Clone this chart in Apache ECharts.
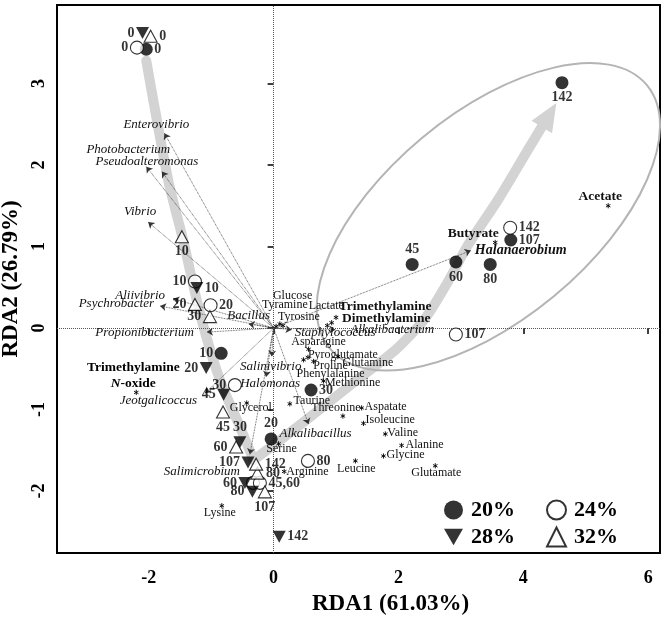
<!DOCTYPE html>
<html><head><meta charset="utf-8">
<script src="https://cdn.jsdelivr.net/npm/echarts@6/dist/echarts.min.js"></script>
<style>html,body{margin:0;padding:0;background:#fff}#c{width:672px;height:619px}</style>
</head><body><div id="c"></div>
<script>
const FONT = "'Liberation Serif','Times New Roman',serif";

// ---------------- data ----------------
const days = [0, 10, 20, 30, 45, 60, 80, 107, 142];
// 20% (filled circle)
const s20x = [-2.04, -0.84, -0.04, 0.60, 2.22, 2.92, 3.47, 3.80, 4.62];
const s20y = [3.42, -0.31, -1.36, -0.76, 0.78, 0.81, 0.78, 1.08, 3.01];
// 24% (open circle)
const s24x = [-2.19, -1.26, -1.01, -0.62, -0.33, -0.22, 0.55, 2.92, 3.79];
const s24y = [3.44, 0.57, 0.28, -0.70, -1.90, -1.90, -1.63, -0.08, 1.23];
const s24text = ['0', '10', '20', '30', '', '45,60', '80', '107', '142'];
// 28% (filled down triangle)
const s28x = [-2.10, -1.23, -1.08, -0.54, -0.80, -0.46, -0.34, -0.41, 0.09];
const s28y = [3.62, 0.49, -0.49, -1.40, -0.82, -1.90, -2.01, -1.65, -2.56];
// 32% (open up triangle)
const s32x = [-1.97, -1.47, -1.26, -1.02, -0.81, -0.60, -0.26, -0.14, -0.28];
const s32y = [3.58, 1.12, 0.29, 0.14, -1.03, -1.46, -1.78, -2.01, -1.67];

// species (arrows)
const speciesNames = ['Enterovibrio', 'Photobacterium', 'Pseudoalteromonas', 'Vibrio', 'Aliivibrio',
  'Psychrobacter', 'Bacillus', 'Propionibacterium', 'Jeotgalicoccus', 'Salimicrobium', 'Halomonas',
  'Salinivibrio', 'Alkalibacillus', 'Staphylococcus', 'Alkalibacterium', 'Halanaerobium'];
const speciesX = [-1.75, -2.04, -1.79, -2.01, -1.61, -1.82, -0.40, -1.07, -1.10, -0.38, -0.12, -0.03, 0.56, 0.29, 0.99, 3.16];
const speciesY = [2.39, 1.98, 1.92, 1.30, 0.36, 0.27, 0.05, -0.05, -0.80, -1.55, -0.60, -0.35, -1.18, -0.02, -0.02, 0.95];

// metabolites (asterisks)
const metaNames = ['Glucose', 'Tyramine', 'Tyrosine', 'Lactate', 'Trimethylamine', 'Dimethylamine',
  'Asparagine', 'Pyroglutamate', 'Proline', 'Glutamine', 'Phenylalanine', 'Methionine', 'Taurine',
  'Threonine', 'Aspatate', 'Isoleucine', 'Valine', 'Alanine', 'Glycine', 'Leucine', 'Glutamate',
  'Arginine', 'Serine', 'Glycerol', 'Lysine', 'Acetate', 'Butyrate', 'Trimethylamine N-oxide'];
const metaX = [0.04, 0.10, 0.15, 0.86, 1.00, 0.93, 0.56, 0.55, 0.64, 1.03, 0.48, 0.80, 0.26, 1.11, 1.41,
  1.44, 1.79, 2.05, 1.76, 1.31, 2.59, 0.17, 0.08, -0.43, -0.83, 5.36, 3.55, -2.20];
const metaY = [0.02, 0.05, 0.03, 0.03, 0.13, 0.065, -0.26, -0.36, -0.41, -0.35, -0.39, -0.65, -0.93, -1.08,
  -0.98, -1.17, -1.30, -1.44, -1.57, -1.63, -1.69, -1.76, -1.42, -0.92, -2.18, 1.50, 1.05, -0.79];

// trajectory band
const bandLeftX = [-2.04, -1.69, -1.45, -1.18, -0.86, -0.54, -0.32];
const bandLeftY = [3.28, 1.82, 1.08, 0.18, -0.64, -1.21, -1.62];
const bandRightX = [-0.32, 0.42, 1.23, 1.95, 2.43, 2.78, 3.10, 3.60, 4.10, 4.53];
const bandRightY = [-1.62, -1.19, -0.70, -0.27, 0.12, 0.55, 1.00, 1.58, 2.22, 2.76];

// ellipse (ends of major axis, minor/major ratio)
const ellipseEnds = [[0.90, -0.25], [5.98, 2.98]];
const ellipseRatio = 0.5;

const xTicks = [-2, 0, 2, 4, 6];
const yTicks = [-2, -1, 0, 1, 2, 3];
const xTitle = 'RDA1 (61.03%)';
const yTitle = 'RDA2 (26.79%)';
const legendNames = ['20%', '24%', '28%', '32%'];

// ---------------- layout (label placement) ----------------
const s20pos = ['right', 'left', 'top', 'right', 'top', 'bottom', 'bottom', 'right', 'bottom'];
const s24pos = ['left', 'left', 'right', 'left', 'right', 'right', 'right', 'right', 'right'];
const s28pos = ['left', 'right', 'left', 'top', 'left', 'left', 'left', 'left', 'right'];
const s32pos = ['right', 'bottom', 'left', 'left', 'bottom', 'left', 'right', 'bottom', 'right'];
const speciesLayout = [
  [-8, -9, 'center'], [-18, -17, 'center'], [-15, -10, 'center'], [-8, -10, 'center'], [-8, -3, 'right'],
  [-6, -2, 'right'], [0, -8, 'center'], [-13, 0, 'right'], [-8, 7, 'right'], [-10, 17, 'right'],
  [4, 7, 'center'], [-1, 10, 'center'], [7, 9, 'center'], [3, 3, 'left'], [15, 0, 'left'], [4, 0, 'left']];
const speciesBold = [0,0,0,0,0,0,0,0,0,0,0,0,0,0,0,1];
const metaLayout = [
  [16.5, -31, 'center', 0], [5, -19, 'center', 0], [16, -9, 'center', 0], [-1, -20, 'center', 0],
  [49, -11, 'center', 1], [54.5, -4, 'center', 1], [10, -7, 'center', 0], [35, -3, 'center', 0],
  [17, 4, 'center', 0], [30, 6, 'center', 0], [27, 14, 'center', 0], [29, 2, 'center', 0],
  [22, -3, 'center', 0], [-7, -8, 'center', 0], [3, -1, 'left', 0], [2, -4, 'left', 0],
  [2, -1, 'left', 0], [4, -1, 'left', 0], [3, -1, 'left', 0], [1, 8, 'center', 0],
  [1, 7, 'center', 0], [2, 0, 'left', 0], [3, 5, 'center', 0], [4, 5, 'center', 0],
  [-2, 7, 'center', 0], [-8, -9, 'center', 1], [-22, -9, 'center', 1], [-3, -17, 'center', 1]];

const DOWN_TRI = 'path://M0,0L20,0L10,17.3Z';

function sampleSeries(name, xs, ys, texts, pos, symbol, size, filled) {
  return {
    type: 'scatter', name: name, symbol: symbol, symbolSize: size, z: 5,
    itemStyle: filled ? { color: '#000' } : { color: '#fff', borderColor: '#000', borderWidth: 1.1 },
    label: { show: true, formatter: '{b}', distance: 1.5, color: '#000', fontFamily: FONT, fontWeight: 'bold', fontSize: 14 },
    emphasis: { disabled: true },
    data: xs.map((x, i) => ({ value: [x, ys[i]], name: texts[i], label: { position: pos[i] } }))
  };
}

const chart = echarts.init(document.getElementById('c'));
const legendText = { fontFamily: FONT, fontWeight: 'bold', fontSize: 22, color: '#000', padding: [0, 0, 0, 3] };

chart.setOption({
  animation: false,
  backgroundColor: '#fff',
  grid: { left: 57, right: 12, top: 5, bottom: 66, show: true, borderColor: '#000', borderWidth: 2,
    backgroundColor: 'transparent', containLabel: false, outerBoundsMode: 'none' },
  legend: [
    { data: legendNames.slice(0, 2), left: 439, top: 494, itemWidth: 19, itemHeight: 19, itemGap: 31, selectedMode: false, textStyle: legendText },
    { data: legendNames.slice(2, 4), left: 439, top: 521, itemWidth: 19, itemHeight: 19, itemGap: 31, selectedMode: false, textStyle: legendText }
  ],
  xAxis: {
    type: 'value', min: -3.47, max: 6.19,
    splitLine: { show: false }, axisLine: { show: false },
    axisTick: { show: true, length: 6, lineStyle: { color: '#000', width: 1.5 }, customValues: xTicks },
    axisLabel: { customValues: xTicks, color: '#000', fontFamily: FONT, fontWeight: 'bold', fontSize: 18, margin: 16 },
    name: xTitle, nameLocation: 'middle', nameGap: 40,
    nameTextStyle: { color: '#000', fontFamily: FONT, fontWeight: 'bold', fontSize: 23, padding: [0, 0, 0, 64] }
  },
  yAxis: {
    type: 'value', min: -2.76, max: 3.963,
    splitLine: { show: false }, axisLine: { show: false },
    axisTick: { show: true, length: 6, lineStyle: { color: '#000', width: 1.5 }, customValues: yTicks },
    axisLabel: { customValues: yTicks, rotate: 90, color: '#000', fontFamily: FONT, fontWeight: 'bold', fontSize: 18, margin: 9 },
    name: yTitle, nameLocation: 'middle', nameGap: 27,
    nameTextStyle: { color: '#000', fontFamily: FONT, fontWeight: 'bold', fontSize: 23 }
  },
  series: [
    { // trajectory band
      type: 'custom', z: 1, silent: true, data: [[0, 0]],
      renderItem: function (params, api) {
        const L = bandLeftX.map((x, i) => api.coord([x, bandLeftY[i]]));
        const R = bandRightX.map((x, i) => api.coord([x, bandRightY[i]]));
        const tip = R[R.length - 1], prev = R[R.length - 2];
        let dx = tip[0] - prev[0], dy = tip[1] - prev[1];
        const len = Math.hypot(dx, dy); dx /= len; dy /= len;
        const HL = 28, HW = 24;
        const base = [tip[0] - dx * HL, tip[1] - dy * HL];
        const nx = -dy, ny = dx;
        const rPts = R.slice(0, -1).concat([base]);
        const st = { stroke: '#d3d3d3', lineWidth: 10, fill: 'none', lineJoin: 'round', lineCap: 'round' };
        return { type: 'group', children: [
          { type: 'polyline', shape: { points: L, smooth: 0.25 }, style: st },
          { type: 'polyline', shape: { points: rPts, smooth: 0.25 }, style: st },
          { type: 'polygon', shape: { points: [tip, [base[0] + nx * HW / 2, base[1] + ny * HW / 2], [base[0] - nx * HW / 2, base[1] - ny * HW / 2]] }, style: { fill: '#d3d3d3' } }
        ] };
      }
    },
    { // ellipse
      type: 'custom', z: 2, silent: true, data: [[0, 0]],
      renderItem: function (params, api) {
        const p1 = api.coord(ellipseEnds[0]), p2 = api.coord(ellipseEnds[1]);
        const cx = (p1[0] + p2[0]) / 2, cy = (p1[1] + p2[1]) / 2;
        const a = Math.hypot(p2[0] - p1[0], p2[1] - p1[1]) / 2, b = a * ellipseRatio;
        const ang = Math.atan2(p2[1] - p1[1], p2[0] - p1[0]);
        return { type: 'ellipse', x: cx, y: cy, rotation: -ang, shape: { cx: 0, cy: 0, rx: a, ry: b }, style: { fill: 'none', stroke: '#b4b4b4', lineWidth: 2 } };
      }
    },
    { // zero lines
      type: 'line', data: [], silent: true, z: 2,
      markLine: { silent: true, symbol: ['none', 'none'], label: { show: false }, animation: false,
        lineStyle: { color: '#555', type: 'dotted', width: 1 }, data: [{ xAxis: 0 }, { yAxis: 0 }] }
    },
    { // species arrows
      type: 'lines', coordinateSystem: 'cartesian2d', z: 3, silent: true,
      symbol: ['none', 'arrow'], symbolSize: 6,
      lineStyle: { color: '#333', width: 0.8, type: 'dotted', opacity: 1 },
      data: speciesX.map((x, i) => ({ coords: [[0, 0], [x, speciesY[i]]] }))
    },
    sampleSeries('20%', s20x, s20y, days.map(String), s20pos, 'circle', 13, true),
    sampleSeries('24%', s24x, s24y, s24text, s24pos, 'circle', 13, false),
    sampleSeries('28%', s28x, s28y, days.map(String), s28pos, DOWN_TRI, [13, 12], true),
    sampleSeries('32%', s32x, s32y, days.map(String), s32pos, 'triangle', [13, 12], false),
    { // species labels
      type: 'custom', z: 6, silent: true,
      data: speciesX.map((x, i) => [x, speciesY[i], i]),
      renderItem: function (params, api) {
        const i = api.value(2);
        const p = api.coord([api.value(0), api.value(1)]);
        const L = speciesLayout[i];
        return { type: 'text', x: p[0] + L[0], y: p[1] + L[1],
          style: { text: speciesNames[i], fill: '#111', font: (speciesBold[i] ? 'italic bold 14px ' : 'italic 13px ') + FONT, align: L[2], verticalAlign: 'middle' } };
      }
    },
    { // metabolites
      type: 'custom', z: 6, silent: true,
      data: metaX.map((x, i) => [x, metaY[i], i]),
      renderItem: function (params, api) {
        const i = api.value(2);
        const p = api.coord([api.value(0), api.value(1)]);
        const L = metaLayout[i];
        const h = 2.6, children = [];
        [90, 30, 150].forEach(function (deg) {
          const r = deg * Math.PI / 180, ux = Math.cos(r) * h, uy = Math.sin(r) * h;
          children.push({ type: 'line', shape: { x1: p[0] - ux, y1: p[1] - uy, x2: p[0] + ux, y2: p[1] + uy }, style: { stroke: '#000', lineWidth: 0.9 } });
        });
        const name = metaNames[i];
        let style;
        if (name.indexOf(' N-oxide') > 0) {
          const base = name.replace(' N-oxide', '');
          style = { text: '{b|' + base + '}\n{bi|N}{b|-oxide}', align: 'center', verticalAlign: 'middle', fill: '#000',
            rich: { b: { font: 'bold 13.5px ' + FONT, fill: '#000', lineHeight: 16 }, bi: { font: 'italic bold 13.5px ' + FONT, fill: '#000', lineHeight: 16 } } };
        } else {
          style = { text: name, fill: '#111', font: (L[3] ? 'bold 13.5px ' : '12px ') + FONT, align: L[2], verticalAlign: 'middle' };
        }
        children.push({ type: 'text', x: p[0] + L[0], y: p[1] + L[1], style: style });
        return { type: 'group', children: children };
      }
    }
  ]
});
</script>
</body></html>
